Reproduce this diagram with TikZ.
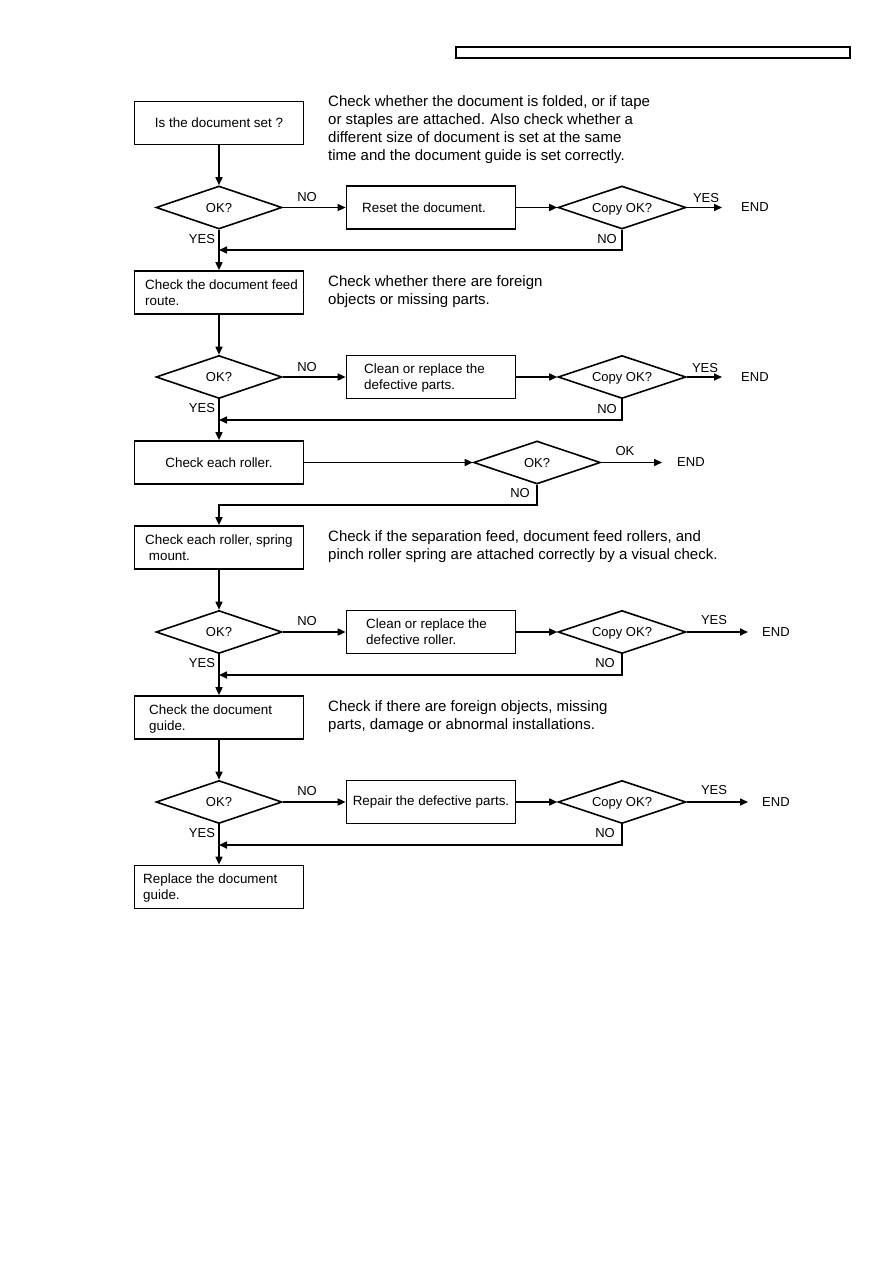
\documentclass[tikz,border=0pt]{standalone}
\usepackage{fontspec}
\setmainfont{Liberation Sans}
\usetikzlibrary{shapes.geometric,arrows.meta}
\begin{document}
\begin{tikzpicture}[x=1pt,y=-1pt,
  box/.style={draw, line width=1.7pt, minimum width=169pt, minimum height=43pt, inner sep=0pt, font=\fontsize{13.4}{16}\selectfont},
  dia/.style={draw, diamond, aspect=3, line width=1.6pt, minimum width=126pt, minimum height=43pt, inner sep=0pt, text depth=0pt, font=\fontsize{13}{15}\selectfont},
  cdia/.style={dia, minimum width=128pt},
  txt/.style={inner sep=0pt, anchor=west, align=left, font=\fontsize{13.4}{16}\selectfont},
  note/.style={inner sep=0pt, anchor=west, align=left, font=\fontsize{15}{18}\selectfont},
  lab/.style={inner sep=0pt, font=\fontsize{13}{15}\selectfont},
  endn/.style={lab, anchor=west, inner xsep=#1},
  arr/.style={line width=1.6pt, -{Triangle[length=8pt,width=7pt]}},
  ln/.style={line width=1.6pt}]
\useasboundingbox (0,0) rectangle (893,1263);

% header
\node[draw, line width=1.4pt, minimum width=394pt, minimum height=11pt, inner sep=0pt] (hdr) at (653,52.5) {};

% row 1
\node[box] (b1) at (219,123) {Is the document set ?};
\node[note] (a1) at (328,130) {Check whether the document is folded, or if tape\\or staples are attached. Also check whether a\\different size of document is set at the same\\time and the document guide is set correctly.};
\node[dia] (d1) at (219,207.5) {OK?};
\node[box] (r1) at (431,207.5) {};
\node[txt] (t1) at (362,207.5) {Reset the document.};
\node[cdia] (c1) at (622,207.5) {Copy OK?};
\node[endn=19pt] (e1) at (722,207.5) {END};
\coordinate (j1) at (219,250);
\node[lab] (no1) at (307,197) {NO};
\node[lab] (yes1) at (202,239) {YES};
\node[lab] (yes1b) at (706,198) {YES};
\node[lab] (no1b) at (607,239) {NO};
\draw[arr] (b1) -- (d1);
\draw[arr] (d1) -- (r1);
\draw[arr] (r1) -- (c1);
\draw[arr] (c1) -- (e1);
\draw[arr] (c1.south) |- (j1);

% row 2
\node[box] (b2) at (219,292.5) {};
\node[txt] (t2) at (145,292.5) {Check the document feed\\route.};
\node[note] (a2) at (328,292) {Check whether there are foreign\\objects or missing parts.};
\draw[arr] (d1) -- (b2);
\node[dia] (d3) at (219,377) {OK?};
\node[box] (r3) at (431,377) {};
\node[txt] (t3) at (364,378.5) {Clean or replace the\\defective parts.};
\node[cdia] (c3) at (622,377) {Copy OK?};
\node[endn=19pt] (e3) at (722,377) {END};
\coordinate (j3) at (219,420);
\node[lab] (no3) at (307,367) {NO};
\node[lab] (yes3) at (202,408) {YES};
\node[lab] (yes3b) at (705,368) {YES};
\node[lab] (no3b) at (607,409) {NO};
\draw[arr] (b2) -- (d3);
\draw[arr] (d3) -- (r3);
\draw[arr] (r3) -- (c3);
\draw[arr] (c3) -- (e3);
\draw[arr] (c3.south) |- (j3);

% row 3
\node[box] (b3) at (219,462.5) {Check each roller.};
\draw[arr] (d3) -- (b3);
\node[dia, minimum width=127pt] (d4) at (537,462.5) {OK?};
\node[endn=15pt] (e4) at (662,462.5) {END};
\node[lab] (ok4) at (625,451) {OK};
\node[lab] (no4) at (520,493) {NO};
\coordinate (j4) at (219,505);
\draw[arr] (b3) -- (d4);
\draw[arr] (d4) -- (e4);

% row 4
\node[box] (b4) at (219,547.5) {};
\node[txt] (t4) at (145,547.5) {Check each roller, spring\\\ mount.};
\node[note] (a4) at (328,547) {Check if the separation feed, document feed rollers, and\\pinch roller spring are attached correctly by a visual check.};
\draw[arr] (d4.south) |- (j4) -- (b4);
\node[dia] (d5) at (219,632) {OK?};
\node[box] (r5) at (431,632) {};
\node[txt] (t5) at (366,632) {Clean or replace the\\defective roller.};
\node[cdia] (c5) at (622,632) {Copy OK?};
\node[endn=14pt] (e5) at (748,632) {END};
\coordinate (j5) at (219,675);
\node[lab] (no5) at (307,621) {NO};
\node[lab] (yes5) at (202,663) {YES};
\node[lab] (yes5b) at (714,620) {YES};
\node[lab] (no5b) at (605,663) {NO};
\draw[arr] (b4) -- (d5);
\draw[arr] (d5) -- (r5);
\draw[arr] (r5) -- (c5);
\draw[arr] (c5) -- (e5);
\draw[arr] (c5.south) |- (j5);

% row 5
\node[box] (b5) at (219,717.5) {};
\node[txt] (t5b) at (149,719) {Check the document\\guide.};
\node[note] (a5) at (328,717) {Check if there are foreign objects, missing\\parts, damage or abnormal installations.};
\draw[arr] (d5) -- (b5);
\node[dia] (d7) at (219,802) {OK?};
\node[box] (r7) at (431,802) {Repair the defective parts.};
\node[cdia] (c7) at (622,802) {Copy OK?};
\node[endn=14pt] (e7) at (748,802) {END};
\coordinate (j7) at (219,845);
\node[lab] (no7) at (307,791) {NO};
\node[lab] (yes7) at (202,833) {YES};
\node[lab] (yes7b) at (714,790) {YES};
\node[lab] (no7b) at (605,833) {NO};
\draw[arr] (b5) -- (d7);
\draw[arr] (d7) -- (r7);
\draw[arr] (r7) -- (c7);
\draw[arr] (c7) -- (e7);
\draw[arr] (c7.south) |- (j7);

% row 6
\node[box] (b6) at (219,887) {};
\node[txt] (t6) at (143,888) {Replace the document\\guide.};
\draw[arr] (d7) -- (b6);
\end{tikzpicture}
\end{document}
